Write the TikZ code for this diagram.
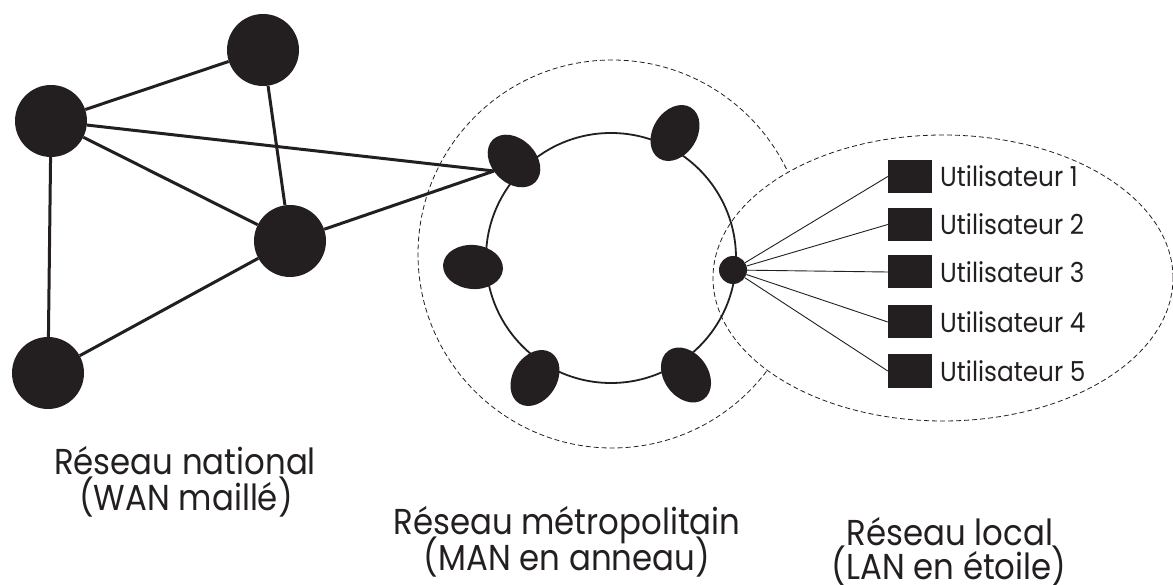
\documentclass[tikz,border=0pt]{standalone}
\usepackage{fontspec}
\setmainfont{Poppins}[FakeStretch=0.9]
\usetikzlibrary{shapes.geometric}
\definecolor{ink}{RGB}{35,31,32}
\begin{document}
\begin{tikzpicture}[x=1pt,y=-1pt,
  wan/.style={circle,fill=ink,minimum size=72pt,inner sep=0pt},
  manode/.style={ellipse,fill=ink,minimum width=60pt,minimum height=44pt,inner sep=0pt},
  user/.style={rectangle,fill=ink,minimum width=44pt,minimum height=33pt,inner sep=0pt},
  ulabel/.style={anchor=base west,inner sep=0pt,font=\fontsize{27.5}{30}\selectfont,text=ink},
  biglabel/.style={anchor=base,inner sep=0pt,font=\fontsize{36}{40}\selectfont,text=ink},
  wanline/.style={draw=ink,line width=3pt},
  ringline/.style={draw=ink,line width=1.8pt},
  lanline/.style={draw=ink,line width=0.9pt},
  zone/.style={draw=ink,line width=0.8pt,dash pattern=on 5pt off 3pt},
]
\useasboundingbox (0,0) rectangle (1173,585);

% zones
\node[zone,circle,minimum size=388pt,inner sep=0pt] (manzone) at (612,254) {};
\node[zone,ellipse,fill=white,minimum width=460pt,minimum height=286pt,inner sep=0pt] (lanzone) at (943,278) {};

% ring
\node[ringline,circle,minimum size=250pt,inner sep=0pt] (ring) at (611,258) {};

% WAN nodes
\node[wan] (A) at (51,121) {};
\node[wan] (B) at (263,50) {};
\node[wan] (C) at (290,241) {};
\node[wan] (D) at (48,373) {};

% MAN nodes
\node[manode,rotate=-45] (m1) at (514,161) {};
\node[manode,rotate=58] (m2) at (675,133) {};
\node[manode,rotate=-5] (m3) at (473,267) {};
\node[manode,rotate=58] (m4) at (535,378) {};
\node[manode,rotate=-54] (m5) at (686,375) {};
\node[circle,fill=ink,minimum size=28pt,inner sep=0pt] (hub) at (733,270) {};
\coordinate (p1) at (494,171);

% WAN links
\draw[wanline] (A) -- (B);
\draw[wanline] (A) -- (C);
\draw[wanline] (A) -- (D);
\draw[wanline] (B) -- (C);
\draw[wanline] (D) -- (C);
\draw[wanline] (A) -- (p1);
\draw[wanline] (C) -- (p1);

% LAN users
\foreach \i/\y in {1/176.5,2/224.5,3/272,4/322,5/371}{
  \node[user] (u\i) at (910,\y) {};
  \node[ulabel] (t\i) at (940,\y+10.5) {Utilisateur \i};
  \draw[lanline] (hub) -- (u\i.west);
}

% captions
\node[biglabel] (n1) at (185,474) {Réseau national};
\node[biglabel] (n2) at (186,510) {(WAN maillé)};
\node[biglabel] (c1) at (567,534) {Réseau métropolitain};
\node[biglabel] (c2) at (567,570) {(MAN en anneau)};
\node[biglabel] (l1) at (950,545) {Réseau local};
\node[biglabel] (l2) at (949,579) {(LAN en étoile)};
\end{tikzpicture}
\end{document}
